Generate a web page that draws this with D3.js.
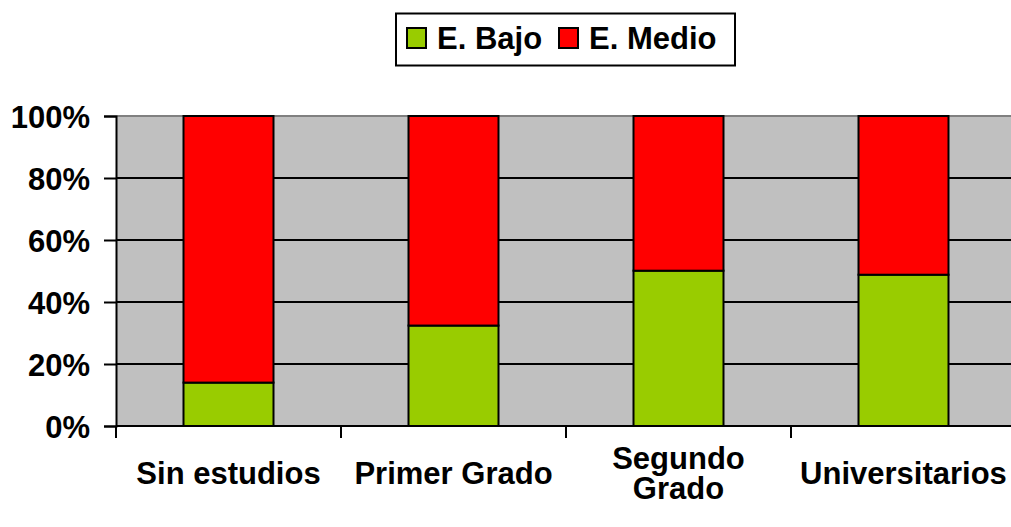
<!DOCTYPE html>
<html>
<head>
<meta charset="utf-8">
<script src="https://cdn.jsdelivr.net/npm/d3@7"></script>
<style>
  html, body { margin: 0; padding: 0; background: #fff; }
  svg { display: block; }
  text { font-family: "Liberation Sans", Arial, sans-serif; font-weight: bold; fill: #000; }
</style>
</head>
<body>
<script>
// Nivel de estudios vs. estrato (porcentaje apilado)
const categories = [["Sin estudios"], ["Primer Grado"], ["Segundo", "Grado"], ["Universitarios"]];
const seriesNames = ["E. Bajo", "E. Medio"];
const bajo = [14, 32.4, 50.1, 48.8];
const medio = bajo.map(v => 100 - v);
const seriesColors = ["#99CC00", "#FF0000"];
const yTicks = [0, 20, 40, 60, 80, 100];

const W = 1011, H = 527;
const plot = { left: 116, right: 1016, top: 116, bottom: 426 };

const svg = d3.select("body").append("svg").attr("width", W).attr("height", H);

const keys = categories.map(c => c.join(" "));
const x = d3.scaleBand().domain(keys).range([plot.left, plot.right])
  .paddingInner(0.6).paddingOuter(0.3);
const step = x.step();
const y = d3.scaleLinear().domain([0, 100]).range([plot.bottom, plot.top]);

// plot background
svg.append("rect")
  .attr("x", plot.left).attr("y", plot.top)
  .attr("width", plot.right - plot.left).attr("height", plot.bottom - plot.top)
  .attr("fill", "#C0C0C0");

// gridlines
svg.append("g").selectAll("line")
  .data(yTicks.filter(t => t > 0))
  .join("line")
  .attr("x1", plot.left).attr("x2", plot.right)
  .attr("y1", d => y(d)).attr("y2", d => y(d))
  .attr("stroke", d => d === 100 ? "#808080" : "#000")
  .attr("stroke-width", 2);

// stacked bars
const rows = keys.map((k, i) => ({ key: k, "E. Bajo": bajo[i], "E. Medio": medio[i] }));
const stacked = d3.stack().keys(seriesNames)(rows);
svg.append("g").selectAll("g")
  .data(stacked)
  .join("g")
  .attr("fill", (d, i) => seriesColors[i])
  .selectAll("rect")
  .data(d => d)
  .join("rect")
  .attr("x", d => x(d.data.key))
  .attr("width", x.bandwidth())
  .attr("y", d => y(d[1]))
  .attr("height", d => y(d[0]) - y(d[1]))
  .attr("stroke", "#000")
  .attr("stroke-width", 2);

// y axis
const yAxis = d3.axisLeft(y).tickValues(yTicks).tickFormat(d => d + "%").tickSize(12).tickPadding(14);
const gy = svg.append("g").attr("transform", `translate(${plot.left},0)`).call(yAxis);
gy.select(".domain").attr("stroke", "#000").attr("stroke-width", 2);
gy.selectAll(".tick line").attr("stroke", "#000").attr("stroke-width", 2);
gy.selectAll(".tick text").attr("font-size", 31).attr("font-family", "Liberation Sans, Arial, sans-serif")
  .attr("font-weight", "bold").attr("fill", "#000").attr("dy", "0.36em");

// x axis line and category boundary ticks
svg.append("line")
  .attr("x1", plot.left).attr("x2", plot.right)
  .attr("y1", plot.bottom).attr("y2", plot.bottom)
  .attr("stroke", "#000").attr("stroke-width", 2);
const bounds = d3.range(keys.length + 1).map(i => plot.left + i * step);
svg.append("g").selectAll("line")
  .data(bounds)
  .join("line")
  .attr("x1", d => d).attr("x2", d => d)
  .attr("y1", plot.bottom).attr("y2", plot.bottom + 12)
  .attr("stroke", "#000").attr("stroke-width", 2);

// category labels (kept inside the canvas)
const lineH = 30;
const labels = svg.append("g").selectAll("text")
  .data(categories)
  .join("text")
  .attr("font-size", 31)
  .attr("text-anchor", "middle");
labels.each(function(lines, i) {
  const t = d3.select(this);
  const base = 484 - (lines.length - 1) * lineH / 2;
  lines.forEach((s, j) => {
    t.append("tspan").attr("y", base + j * lineH).text(s);
  });
  const w = this.getBBox().width;
  let cx = x(keys[i]) + x.bandwidth() / 2;
  cx = Math.min(cx, W - 3 - w / 2);
  t.selectAll("tspan").attr("x", cx);
});

// legend
const lg = svg.append("g");
lg.append("rect")
  .attr("x", 396).attr("y", 13.5).attr("width", 339).attr("height", 52)
  .attr("fill", "#fff").attr("stroke", "#000").attr("stroke-width", 2);
const legendX = [407, 559];
seriesNames.forEach((name, i) => {
  lg.append("rect")
    .attr("x", legendX[i]).attr("y", 28).attr("width", 19).attr("height", 20)
    .attr("fill", seriesColors[i]).attr("stroke", "#000").attr("stroke-width", 2);
  lg.append("text")
    .attr("x", legendX[i] + 30).attr("y", 48.5)
    .attr("font-size", 31)
    .text(name);
});
</script>
</body>
</html>
